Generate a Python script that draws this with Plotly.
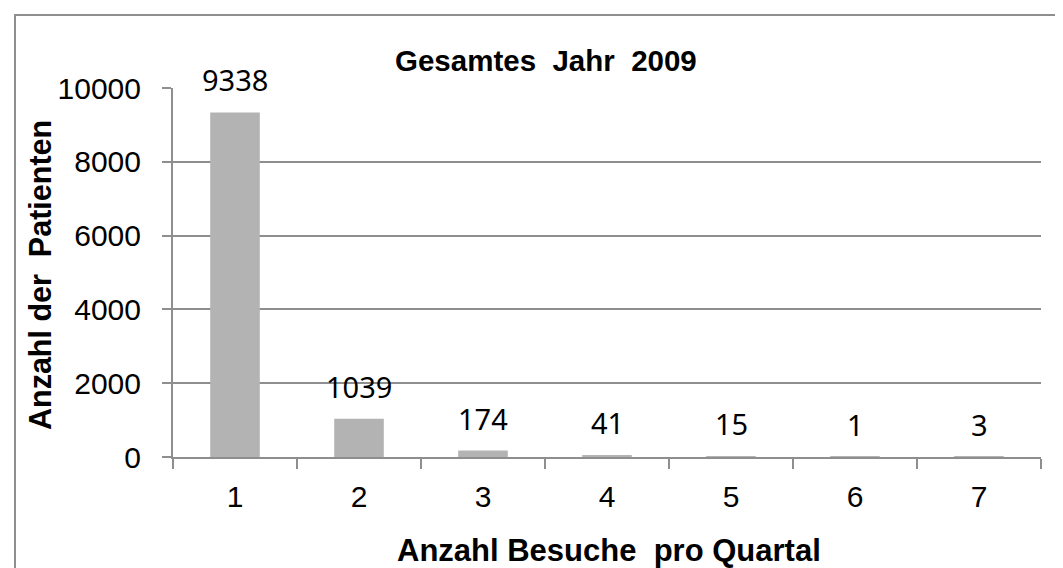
import plotly.graph_objects as go

# ---- data ----
categories = ["1", "2", "3", "4", "5", "6", "7"]
patients = [9338, 1039, 174, 41, 15, 1, 3]
y_ticks = [0, 2000, 4000, 6000, 8000, 10000]
y_tick_text = ["0", "2000", "4000", "6000", "8000", "10000"]
title_text = "Gesamtes\u00a0 Jahr\u00a0 2009"
x_title = "Anzahl Besuche\u00a0 pro Quartal"
y_title = "Anzahl der\u00a0 Patienten"

# ---- layout geometry (px) ----
W, H = 1063, 568
L, R, T, B = 165, 30, 80, 119
PW, PH = W - L - R, H - T - B
GRAY = "#8e8e8e"
TXT = "Liberation Sans, Arial"


def px_x(px):
    return (px - L) / PW


def px_y(py):
    return (H - B - py) / PH


fig = go.Figure()
fig.add_trace(go.Bar(
    x=categories, y=patients, width=0.4,
    marker=dict(color="#b3b3b3", line=dict(width=0)),
    hoverinfo="x+y",
))

annotations = []
for i, v in enumerate(patients):
    annotations.append(dict(
        x=i, y=v, xref="x", yref="y", text=str(v), showarrow=False,
        yanchor="bottom", yshift=11,
        font=dict(family="Noto Sans", size=29, color="#000000"),
    ))

annotations.append(dict(
    x=px_x(538), y=px_y(52), xref="paper", yref="paper", text=title_text,
    showarrow=False, xanchor="center", yanchor="middle",
    font=dict(family=TXT, size=29.5, color="#000000", weight="bold"),
))
annotations.append(dict(
    x=px_x(601), y=px_y(542), xref="paper", yref="paper", text=x_title,
    showarrow=False, xanchor="center", yanchor="middle",
    font=dict(family=TXT, size=31, color="#000000", weight="bold"),
))
annotations.append(dict(
    x=px_x(32), y=px_y(267), xref="paper", yref="paper", text=y_title,
    showarrow=False, xanchor="center", yanchor="middle", textangle=-90,
    font=dict(family=TXT, size=30.5, color="#000000", weight="bold"),
))

fig.update_layout(
    width=W, height=H,
    margin=dict(l=L, r=R, t=T, b=B, pad=0),
    paper_bgcolor="white", plot_bgcolor="white",
    showlegend=False,
    annotations=annotations,
    shapes=[dict(
        type="rect", xref="paper", yref="paper",
        x0=px_x(7), x1=px_x(1080), y0=px_y(590), y1=px_y(7),
        line=dict(color=GRAY, width=2), fillcolor="rgba(0,0,0,0)", layer="below",
    )],
    font=dict(family=TXT, size=30, color="#000000"),
)

fig.update_xaxes(
    type="category", tickson="boundaries", range=[-0.5, len(categories) - 0.5],
    showline=True, linecolor=GRAY, linewidth=2,
    ticks="outside", ticklen=10, tickwidth=2, tickcolor=GRAY,
    showgrid=False, zeroline=False,
    tickfont=dict(family=TXT, size=30, color="#000000"),
    ticklabelstandoff=12,
)
fig.update_yaxes(
    range=[0, 10000], tickvals=y_ticks, ticktext=y_tick_text,
    showline=True, linecolor=GRAY, linewidth=2,
    ticks="outside", ticklen=9, tickwidth=2, tickcolor=GRAY,
    showgrid=True, gridcolor=GRAY, gridwidth=2, zeroline=False,
    tickfont=dict(family=TXT, size=30, color="#000000"),
    ticklabelstandoff=15,
)

fig.write_html("out.html")
